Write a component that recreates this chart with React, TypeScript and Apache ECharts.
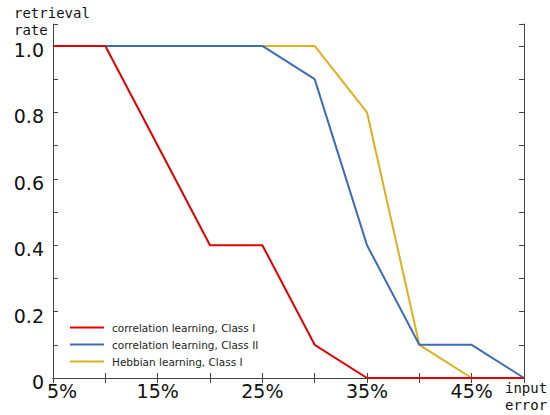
import React, { useEffect, useRef } from "react";
import * as echarts from "echarts";

const inputError = [5, 10, 15, 20, 25, 30, 35, 40, 45, 50];
const corrClassI = [1.0, 1.0, 0.7, 0.4, 0.4, 0.1, 0, 0, 0, 0];
const corrClassII = [1.0, 1.0, 1.0, 1.0, 1.0, 0.9, 0.4, 0.1, 0.1, 0];
const hebbClassI = [1.0, 1.0, 1.0, 1.0, 1.0, 1.0, 0.8, 0.1, 0, 0];
const seriesNames = [
  "correlation learning, Class I",
  "correlation learning, Class II",
  "Hebbian learning, Class I",
];
const xLabelValues = [5, 15, 25, 35, 45];

const colors = ["#e00000", "#3e6cb4", "#dcb01e"];

export default function App() {
  const ref = useRef<HTMLDivElement>(null);
  useEffect(() => {
    const chart = echarts.init(ref.current!, null, { renderer: "svg" });
    const pair = (ys: number[]) => inputError.map((x, i) => [x, ys[i]]);
    const axisLine = { show: true, lineStyle: { color: "#444", width: 1 } };
    const tickStyle = { show: true, inside: true, length: 5, lineStyle: { color: "#444" } };
    chart.setOption({
      animation: false,
      backgroundColor: "#fff",
      color: colors,
      grid: { left: 53, right: 26, top: 24, bottom: 37, containLabel: false },
      legend: {
        orient: "vertical",
        left: 70,
        top: 322,
        padding: 0,
        itemWidth: 34,
        itemHeight: 2,
        itemGap: 6,
        icon: "rect",
        textStyle: { fontSize: 10.5, color: "#222", fontFamily: "DejaVu Sans", padding: [0, 0, 0, 3] },
        data: seriesNames,
      },
      xAxis: [
        {
          type: "value",
          min: 5,
          max: 50,
          interval: 5,
          axisLine,
          axisTick: tickStyle,
          splitLine: { show: false },
          axisLabel: {
            fontSize: 19,
            color: "#111",
            fontFamily: "DejaVu Sans",
            margin: 3,
            formatter: (v: number) => {
              const r = Math.round(v);
              if (!xLabelValues.includes(r)) return "";
              return r === 5 ? `{first|${r}%}` : `${r}%`;
            },
            rich: {
              first: { fontSize: 19, color: "#111", fontFamily: "DejaVu Sans", padding: [0, 0, 0, 18] },
            },
          },
        },
        {
          type: "value",
          position: "top",
          min: 5,
          max: 50,
          interval: 5,
          axisLine,
          axisTick: tickStyle,
          splitLine: { show: false },
          axisLabel: { show: false },
        },
      ],
      yAxis: [
        {
          type: "value",
          min: 0,
          max: 1.066,
          interval: 0.1,
          axisLine,
          axisTick: tickStyle,
          splitLine: { show: false },
          axisLabel: {
            fontSize: 19,
            color: "#111",
            fontFamily: "DejaVu Sans",
            margin: 9,
            formatter: (v: number) => {
              const k = Math.round(v * 10);
              if (Math.abs(v * 10 - k) > 1e-6 || k % 2 !== 0) return "";
              return `{v|${k === 0 ? "0" : (k / 10).toFixed(1)}}`;
            },
            rich: {
              v: { fontSize: 19, color: "#111", fontFamily: "DejaVu Sans", padding: [8, 0, 0, 0] },
            },
          },
        },
        {
          type: "value",
          position: "right",
          min: 0,
          max: 1.066,
          interval: 0.1,
          axisLine,
          axisTick: tickStyle,
          splitLine: { show: false },
          axisLabel: { show: false },
        },
      ],
      series: [
        { name: seriesNames[0], type: "line", data: pair(corrClassI), showSymbol: false, lineStyle: { width: 2 }, z: 5 },
        { name: seriesNames[1], type: "line", data: pair(corrClassII), showSymbol: false, lineStyle: { width: 2 }, z: 4 },
        { name: seriesNames[2], type: "line", data: pair(hebbClassI), showSymbol: false, lineStyle: { width: 2 }, z: 3 },
      ],
      graphic: [
        {
          type: "text",
          left: 14,
          top: 4,
          style: {
            text: "retrieval\nrate",
            font: "14px 'DejaVu Sans Mono'",
            fill: "#111",
            lineHeight: 17,
          },
        },
        {
          type: "text",
          left: 505,
          top: 379,
          style: {
            text: "input\nerror",
            font: "14px 'DejaVu Sans Mono'",
            fill: "#111",
            lineHeight: 17,
          },
        },
      ],
    });
    return () => chart.dispose();
  }, []);
  return <div ref={ref} style={{ width: 550, height: 415, position: "absolute", left: 0, top: 0 }} />;
}
